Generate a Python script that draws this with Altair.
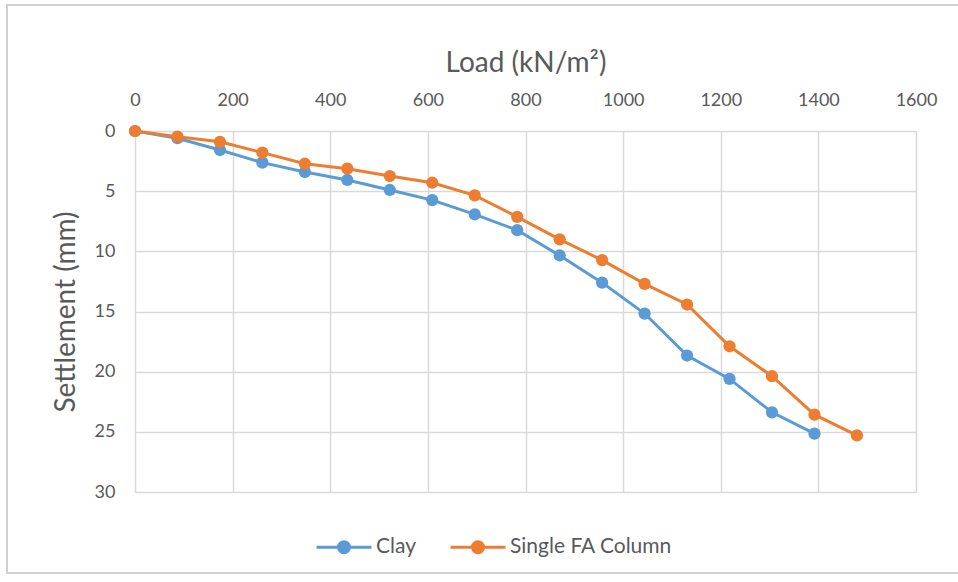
import altair as alt
import pandas as pd

loads = [0, 87, 174, 261, 348, 435, 522, 609, 696, 783, 870, 957, 1044, 1131, 1218, 1305, 1392, 1479]
clay = [0, 0.6, 1.58, 2.63, 3.41, 4.07, 4.9, 5.74, 6.93, 8.24, 10.34, 12.6, 15.17, 18.66, 20.6, 23.38, 25.15]
single_fa = [0, 0.47, 0.9, 1.8, 2.72, 3.13, 3.74, 4.3, 5.35, 7.13, 9.0, 10.73, 12.7, 14.42, 17.89, 20.38, 23.57, 25.3]
series_names = ["Clay", "Single FA Column"]
series_colors = ["#5B9BD5", "#ED7D31"]
x_ticks = [0, 200, 400, 600, 800, 1000, 1200, 1400, 1600]
y_ticks = [0, 5, 10, 15, 20, 25, 30]

rows = []
for i, v in enumerate(clay):
    rows.append({"load": loads[i], "settlement": v, "series": series_names[0], "order": i})
for i, v in enumerate(single_fa):
    rows.append({"load": loads[i], "settlement": v, "series": series_names[1], "order": i})
df = pd.DataFrame(rows)

FONT = "Lato"
GRAY = "#595959"


def circle(r):
    return f"M{r},0A{r},{r} 0 1,1 -{r},0A{r},{r} 0 1,1 {r},0"


legend_symbol = "M-1,0L1,0" + circle(0.2) + circle(0.13) + circle(0.06)

base = alt.Chart(df).encode(
    x=alt.X("load:Q",
            scale=alt.Scale(domain=[0, 1600], nice=False),
            axis=alt.Axis(orient="top", values=x_ticks, title="Load (kN/m²)", format="d",
                          titleFontSize=28, titleFontWeight="normal", titleColor=GRAY,
                          titlePadding=14, labelPadding=22, labelFlush=False,
                          labelFontSize=18, labelColor=GRAY, domain=False, ticks=False,
                          grid=True, gridColor="#d9d9d9", gridWidth=1.5)),
    y=alt.Y("settlement:Q",
            scale=alt.Scale(domain=[0, 30], reverse=True, nice=False),
            axis=alt.Axis(values=y_ticks, title="Settlement (mm)",
                          titleFontSize=28, titleFontWeight="normal", titleColor=GRAY,
                          titlePadding=14, labelPadding=20,
                          labelFontSize=18, labelColor=GRAY, domain=False, ticks=False,
                          grid=True, gridColor="#d9d9d9", gridWidth=1.5)),
    color=alt.Color("series:N",
                    scale=alt.Scale(domain=series_names, range=series_colors),
                    legend=alt.Legend(title=None, orient="none", direction="horizontal",
                                      legendX=180, legendY=387,
                                      labelFontSize=21, labelColor=GRAY, labelFont=FONT,
                                      labelLimit=400,
                                      symbolType=legend_symbol, symbolStrokeWidth=3,
                                      symbolSize=3025, symbolFillColor="transparent",
                                      columnPadding=28, labelOffset=3)),
    order="order:Q",
)

lines = base.mark_line(strokeWidth=3)
points = base.mark_point(filled=True, size=150, opacity=1)

frame = alt.Chart(df).mark_rect(fill=None, stroke="#d0d0d0", strokeWidth=1.5, clip=False).encode(
    x=alt.value(-128), x2=alt.value(900), y=alt.value(-126), y2=alt.value(442)
)

chart = alt.layer(frame, lines, points).properties(
    width=781, height=361,
    padding={"left": 135, "top": 131, "right": 42, "bottom": 90},
    autosize=alt.AutoSizeParams(type="none"),
    background="white",
).configure_view(stroke=None).configure(font=FONT)

chart.save("out.html", embed_options={"renderer": "svg", "actions": False})
